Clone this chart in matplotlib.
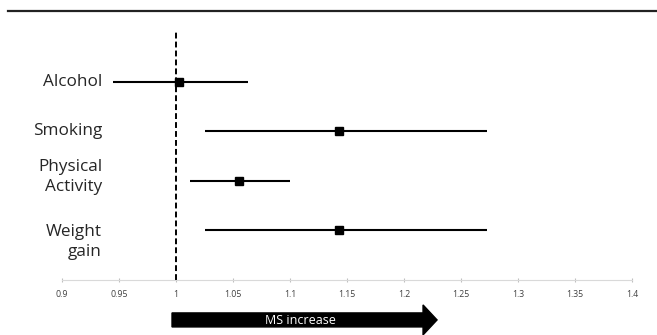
import numpy as np
import matplotlib.pyplot as plt
import matplotlib.patches as mpatches
from matplotlib.lines import Line2D

plt.rcParams['font.family'] = ['Open Sans', 'DejaVu Sans']

factors = ["Alcohol", "Smoking", "Physical\nActivity", "Weight\ngain"]
estimate = np.array([1.003, 1.143, 1.055, 1.143])
ci_low = np.array([0.945, 1.025, 1.012, 1.025])
ci_high = np.array([1.063, 1.273, 1.100, 1.273])
xticks = [0.9, 0.95, 1, 1.05, 1.1, 1.15, 1.2, 1.25, 1.3, 1.35, 1.4]
xtick_labels = ["0.9", "0.95", "1", "1.05", "1.1", "1.15", "1.2", "1.25", "1.3", "1.35", "1.4"]

fig = plt.figure(figsize=(6.57, 3.35), dpi=100)
ax = fig.add_axes([62/657, 55/335, 570/657, 248/335])

rows = np.arange(len(factors))
ax.hlines(rows, ci_low, ci_high, color='black', lw=1.5)
ax.plot(estimate, rows, 's', color='black', ms=5.8)
ax.axvline(1, color='black', lw=1.4, ls=(0, (3, 1.6)))

ax.set_xlim(0.9, 1.4)
ax.set_ylim(4.01, -1.01)
ax.set_yticks([])
ax.set_xticks(xticks)
ax.set_xticklabels(xtick_labels)
ax.tick_params(axis='x', colors='#bfbfbf', labelcolor='#404040', labelsize=6.3,
               length=3, direction='inout', pad=6)
for s in ['top', 'right', 'left']:
    ax.spines[s].set_visible(False)
ax.spines['bottom'].set_color('#d9d9d9')

# row labels, right aligned left of the plot
label_shift = [0, 0, -0.07, 0.24]
for i, name in enumerate(factors):
    ax.text(40/570, i + label_shift[i], name, transform=ax.get_yaxis_transform(),
            ha='right', va='center', fontsize=12.3, color='#262626',
            multialignment='right', linespacing=1.3)

# arrow below the axis
arr = mpatches.FancyArrow(0.9965, -0.161, 1.229 - 0.9965, 0, width=0.0565,
                          head_width=0.121, head_length=0.0123,
                          length_includes_head=True, color='black',
                          transform=ax.get_xaxis_transform(), clip_on=False)
ax.add_patch(arr)
ax.text(1.109, -0.163, "MS increase", transform=ax.get_xaxis_transform(),
        ha='center', va='center', color='white', fontsize=9)

fig.add_artist(Line2D([8/657, 1], [1 - 11/335, 1 - 11/335], color='#222222', lw=1.6,
                      transform=fig.transFigure))

fig.savefig("out.png", dpi=100)
